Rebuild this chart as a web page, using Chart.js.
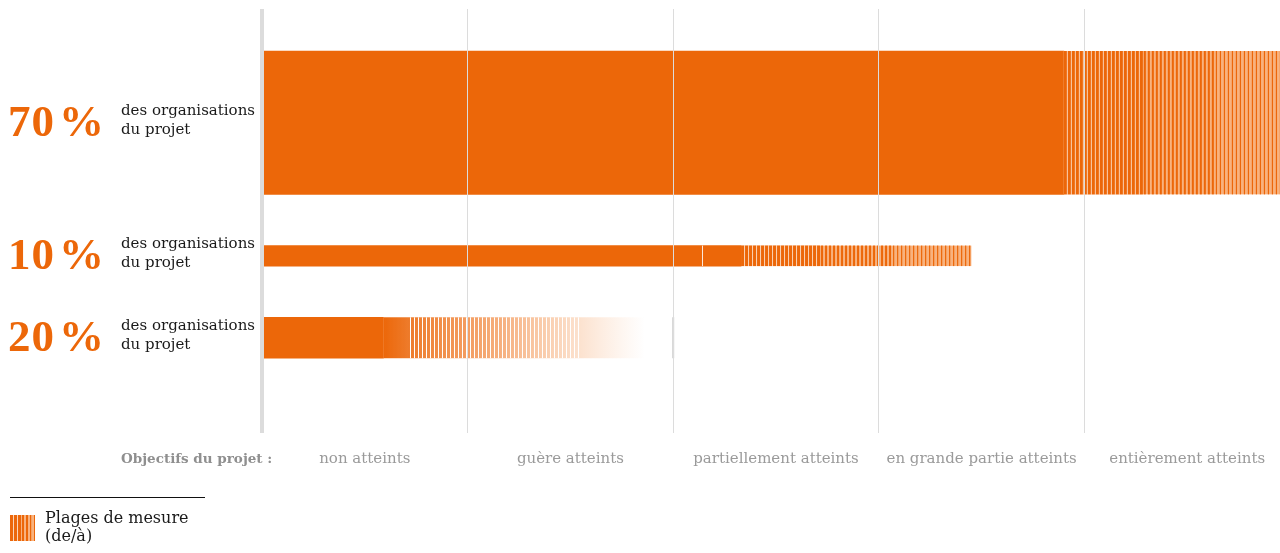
<!DOCTYPE html>
<html><head><meta charset="utf-8">
<script src="https://cdn.jsdelivr.net/npm/chart.js@4.4.1/dist/chart.umd.min.js"></script>
<style>html,body{margin:0;padding:0;background:#fff;overflow:hidden;width:1280px;height:553px}canvas{display:block}</style>
</head><body><canvas id="c" width="1300" height="553" style="width:1300px;height:553px"></canvas>
<script>
// ---- data ----
const rowShares = [70, 10, 20];                 // % of project organisations (bar thickness)
const rowShareLabels = ['70 %', '10 %', '20 %'];
const rowCaption = ['des organisations', 'du projet'];
const solidEnd = [3.9, 2.33, 0.59];            // lower bound of the measured range
const rangeEnd = [5, 3.45, 2.0];               // upper bound of the measured range
const innerMark = [null, 2.14, null];          // thin white divider inside the solid part
const categories = ['non atteints', 'guère atteints', 'partiellement atteints', 'en grande partie atteints', 'entièrement atteints'];
const axisTitle = 'Objectifs du projet :';
const legendLines = ['Plages de mesure', '(de/à)'];

// ---- style / layout ----
const ORANGE = '#ec6709';
const PEACH = '#f8b27e';
const LIGHTGAP = '#fbd4b8';
const GRID = '#dcdcdc';
const SERIF = '"DejaVu Serif", "Liberation Serif", serif';
const PLOT_TOP = 9, PLOT_BOTTOM = 433, CANVAS_H = 553;
const Y_MAX = 207, Y_OFFSET = 20.5, Y_GAP = 25;
const ppu = (PLOT_BOTTOM - PLOT_TOP) / Y_MAX;

// row centres derived from cumulative shares
const rowCenters = [];
{ let acc = Y_OFFSET; rowShares.forEach(s => { rowCenters.push(acc + s / 2); acc += s + Y_GAP; }); }

const datasets = [];
rowShares.forEach((s, i) => {
  datasets.push({ label: 'solid' + i, data: [{ x: solidEnd[i], y: rowCenters[i] }], backgroundColor: ORANGE,
    barThickness: s * ppu, stack: 's', borderWidth: 0, mark: innerMark[i] });
  datasets.push({ label: 'range' + i, data: [{ x: rangeEnd[i] - solidEnd[i], y: rowCenters[i] }], backgroundColor: 'rgba(0,0,0,0)',
    barThickness: s * ppu, stack: 's', borderWidth: 0, hatch: i === 2 ? 'fade' : 'stripe' });
});

function drawStripes(ctx, left, right, top, h) {
  const span = right - left;
  ctx.fillStyle = PEACH; ctx.fillRect(left, top, span, h);
  ctx.fillStyle = LIGHTGAP; ctx.fillRect(left, top, span * 0.34, h);
  ctx.fillStyle = ORANGE;
  for (let px = left; px < right; px += 4) {
    const t = (px - left) / span;
    const w = t < 0.34 ? 3 : (t < 0.66 ? 2 : 1.2);
    ctx.fillRect(px, top, Math.min(w, right - px), h);
  }
}

function drawFade(ctx, left, right, top, h) {
  const span = right - left;
  const g = ctx.createLinearGradient(left, 0, right, 0);
  g.addColorStop(0, 'rgba(236,103,9,1)');
  g.addColorStop(0.09, 'rgba(236,112,25,0.92)');
  g.addColorStop(0.4, 'rgba(240,125,45,0.62)');
  g.addColorStop(0.68, 'rgba(243,140,65,0.25)');
  g.addColorStop(0.9, 'rgba(248,160,100,0.0)');
  ctx.fillStyle = g; ctx.fillRect(left, top, span, h);
  ctx.fillStyle = '#ffffff';
  for (let px = left + span * 0.093; px < left + span * 0.68; px += 4) {
    ctx.fillRect(Math.round(px), top, 1, h);
  }
  ctx.fillStyle = '#d0d0d0';
  ctx.fillRect(right - 1, top, 2, h);
}

const hatchPlugin = {
  id: 'hatch',
  afterDatasetsDraw(chart) {
    const ctx = chart.ctx, xs = chart.scales.x;
    chart.data.datasets.forEach((ds, di) => {
      chart.getDatasetMeta(di).data.forEach(el => {
        const p = el.getProps(['x', 'y', 'base', 'height'], true);
        const left = Math.min(p.base, p.x), right = Math.max(p.base, p.x);
        const top = p.y - p.height / 2;
        ctx.save();
        if (ds.hatch === 'fade') drawFade(ctx, left, right, top, p.height);
        else if (ds.hatch) drawStripes(ctx, left, right, top, p.height);
        if (ds.mark != null) {
          ctx.fillStyle = 'rgba(255,255,255,0.85)';
          ctx.fillRect(Math.round(xs.getPixelForValue(ds.mark)), top, 1, p.height);
        }
        ctx.restore();
      });
    });
  }
};

const textPlugin = {
  id: 'texts',
  afterDraw(chart) {
    const ctx = chart.ctx, ys = chart.scales.y;
    ctx.save();
    rowShares.forEach((s, i) => {
      const cy = ys.getPixelForValue(rowCenters[i]);
      ctx.fillStyle = ORANGE;
      ctx.font = 'bold 45px "Liberation Serif", serif';
      ctx.textBaseline = 'middle'; ctx.textAlign = 'left';
      if ('letterSpacing' in ctx) ctx.letterSpacing = '1px';
      const parts = rowShareLabels[i].split(' ');
      ctx.fillText(parts[0], 8, cy + 2);
      const w0 = ctx.measureText(parts[0]).width;
      ctx.fillText(parts[1], 8 + w0 + 4, cy + 2);
      if ('letterSpacing' in ctx) ctx.letterSpacing = '0px';
      ctx.fillStyle = '#1a1a1a';
      ctx.font = '15px ' + SERIF;
      ctx.fillText(rowCaption[0], 121, cy - 12);
      ctx.fillText(rowCaption[1], 121, cy + 7);
    });
    ctx.fillStyle = '#8f8f8f';
    ctx.font = 'bold 13.5px ' + SERIF;
    ctx.textBaseline = 'middle';
    ctx.fillText(axisTitle, 121, 459);
    ctx.fillStyle = '#111';
    ctx.fillRect(10, 497, 195, 1);
    drawStripes(ctx, 10, 35, 515, 26);
    ctx.fillStyle = '#1a1a1a';
    ctx.font = '16px ' + SERIF;
    ctx.fillText(legendLines[0], 45, 519);
    ctx.fillText(legendLines[1], 45, 537);
    ctx.restore();
  }
};

new Chart(document.getElementById('c'), {
  type: 'bar',
  data: { datasets },
  plugins: [hatchPlugin, textPlugin],
  options: {
    indexAxis: 'y',
    responsive: false,
    animation: false,
    layout: { padding: { top: PLOT_TOP, left: 262, right: 10, bottom: 0 } },
    plugins: { legend: { display: false }, tooltip: { enabled: false } },
    scales: {
      y: { type: 'linear', min: 0, max: Y_MAX, reverse: true, stacked: true, offset: false, display: false },
      x: {
        type: 'linear', min: 0, max: categories.length, stacked: true, offset: false,
        afterFit(scale) { scale.height = CANVAS_H - PLOT_BOTTOM; scale.paddingLeft = 0; scale.paddingRight = 0; },
        border: { display: false },
        grid: {
          z: 1, drawTicks: false,
          color: c => (c.tick && c.tick.value % 1 === 0) ? GRID : 'rgba(0,0,0,0)',
          lineWidth: c => (c.tick && c.tick.value === 0) ? 4 : 1
        },
        ticks: {
          stepSize: 0.5, autoSkip: false, maxRotation: 0, padding: 17,
          color: '#9a9a9a', font: { family: SERIF, size: 15 },
          callback: v => (v % 1 === 0.5) ? categories[Math.floor(v)] : ''
        }
      }
    }
  }
});
</script></body></html>
